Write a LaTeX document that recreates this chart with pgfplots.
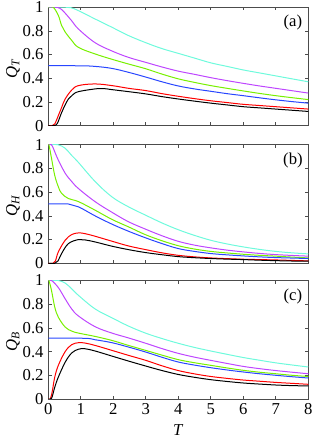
\documentclass[border=0pt]{standalone}
\usepackage{pgfplots}
\pgfplotsset{compat=1.18}
\usepackage{fontspec}
\setmainfont{Liberation Serif}
\definecolor{cc}{RGB}{110,250,220}
\definecolor{mm}{RGB}{190,70,255}
\definecolor{gg}{RGB}{120,240,0}
\definecolor{bb}{RGB}{40,70,255}
\definecolor{rr}{RGB}{255,0,0}
\pgfplotsset{panel/.style={
  scale only axis, width=195pt, height=88.9pt,
  anchor=south west,
  xmin=0,xmax=8,ymin=0,ymax=1,
  xtick={0,1,2,3,4,5,6,7,8}, ytick={0,0.2,0.4,0.6,0.8,1},
  tick align=inside, xtick pos=both, ytick pos=both,
  major tick length=2.5pt,
  tick label style={font=\fontsize{12.5}{14}\selectfont},
  /pgf/number format/assume math mode=true,
  axis line style={line width=0.6pt, black!70},
  every tick/.style={black!70, line width=0.5pt},
  label style={font=\fontsize{12.5}{14}\selectfont},
  ylabel style={at={(axis description cs:-0.136,0.483)}, anchor=center},
  xlabel style={at={(axis description cs:0.5,0)}, anchor=center, yshift=-23.3pt},
  every axis plot/.append style={line width=0.75pt, smooth, tension=0.6},
}}
\begin{document}
\begin{tikzpicture}
% ---------------- panel (a)
\begin{axis}[panel, at={(36.2pt,235pt)}, xticklabels={}, ylabel={\textit{Q}\textsubscript{\textit{T}}}]
\addplot[cc] coordinates {(0,1)(0.5,1)(0.7,0.995)(0.93,0.97)(1.44,0.90)(1.96,0.83)(2.47,0.76)(3,0.70)(3.5,0.65)(4,0.61)(4.5,0.57)(5,0.53)(5.5,0.50)(6,0.47)(6.5,0.445)(7,0.42)(7.5,0.395)(8,0.37)};
\addplot[mm] coordinates {(0,1)(0.2,1)(0.36,0.99)(0.5,0.955)(0.72,0.885)(0.93,0.815)(1.44,0.70)(1.96,0.63)(2.47,0.576)(3,0.534)(3.5,0.495)(4,0.46)(4.5,0.433)(5,0.405)(5.5,0.38)(6,0.357)(6.5,0.335)(7,0.315)(7.5,0.295)(8,0.275)};
\addplot[gg] coordinates {(0,1)(0.15,1)(0.31,0.93)(0.41,0.845)(0.52,0.79)(0.72,0.72)(0.93,0.66)(1.44,0.605)(1.96,0.56)(2.47,0.52)(3,0.48)(3.5,0.435)(4,0.395)(4.5,0.365)(5,0.338)(5.5,0.315)(6,0.293)(6.5,0.272)(7,0.253)(7.5,0.236)(8,0.22)};
\addplot[bb] coordinates {(0,0.506)(1,0.505)(1.44,0.50)(1.96,0.483)(2.47,0.45)(3,0.41)(3.5,0.37)(4,0.335)(4.5,0.31)(5,0.29)(5.5,0.27)(6,0.253)(6.5,0.235)(7,0.218)(7.5,0.203)(8,0.19)};
\addplot[rr] coordinates {(0,0)(0.12,0)(0.2,0.015)(0.31,0.085)(0.42,0.16)(0.52,0.225)(0.72,0.30)(0.93,0.338)(1.44,0.352)(1.96,0.338)(2.47,0.315)(3,0.296)(3.5,0.27)(4,0.248)(4.5,0.228)(5,0.21)(5.5,0.195)(6,0.18)(6.5,0.17)(7,0.16)(7.5,0.15)(8,0.14)};
\addplot[black] coordinates {(0,0)(0.18,0)(0.28,0.02)(0.41,0.11)(0.52,0.175)(0.62,0.225)(0.75,0.26)(0.93,0.287)(1.44,0.31)(1.7,0.313)(1.96,0.304)(2.47,0.287)(3,0.268)(3.5,0.245)(4,0.225)(4.5,0.207)(5,0.19)(5.5,0.175)(6,0.16)(6.5,0.15)(7,0.14)(7.5,0.13)(8,0.12)};
\node[font=\fontsize{12.5}{14}\selectfont] at (rel axis cs:0.941,0.867) {(a)};
\end{axis}
% ---------------- panel (b)
\begin{axis}[panel, at={(36.2pt,131.8pt)}, xticklabels={}, ylabel={\textit{Q}\textsubscript{\textit{H}}}]
\addplot[cc] coordinates {(0,1)(0.3,1)(0.52,0.97)(0.72,0.91)(0.93,0.85)(1.44,0.69)(1.96,0.56)(2.47,0.476)(3,0.405)(3.5,0.34)(4,0.283)(4.5,0.235)(5,0.194)(5.5,0.163)(6,0.138)(6.5,0.117)(7,0.10)(7.5,0.088)(8,0.079)};
\addplot[mm] coordinates {(0,1)(0.1,1)(0.2,0.94)(0.31,0.87)(0.52,0.76)(0.72,0.69)(0.93,0.63)(1.44,0.52)(1.96,0.43)(2.47,0.35)(3,0.287)(3.5,0.232)(4,0.185)(4.5,0.153)(5,0.13)(5.5,0.111)(6,0.096)(6.5,0.083)(7,0.073)(7.5,0.066)(8,0.06)};
\addplot[gg] coordinates {(0,1)(0.02,1)(0.1,0.885)(0.2,0.74)(0.31,0.645)(0.41,0.59)(0.62,0.546)(0.93,0.52)(1.44,0.448)(1.96,0.37)(2.47,0.307)(3,0.24)(3.5,0.19)(4,0.148)(4.5,0.12)(5,0.10)(5.5,0.087)(6,0.076)(6.5,0.067)(7,0.06)(7.5,0.052)(8,0.045)};
\addplot[bb] coordinates {(0,0.5)(0.62,0.5)(0.93,0.476)(1.44,0.40)(1.96,0.33)(2.47,0.27)(3,0.214)(3.5,0.166)(4,0.124)(4.5,0.1)(5,0.082)(5.5,0.071)(6,0.062)(6.5,0.054)(7,0.048)(7.5,0.044)(8,0.04)};
\addplot[rr] coordinates {(0,0)(0.15,0)(0.22,0.02)(0.31,0.096)(0.52,0.194)(0.72,0.242)(0.93,0.256)(1.13,0.25)(1.44,0.228)(1.96,0.186)(2.47,0.146)(3,0.115)(3.5,0.088)(4,0.067)(4.5,0.054)(5,0.045)(5.5,0.039)(6,0.034)(6.5,0.031)(7,0.028)(7.5,0.024)(8,0.02)};
\addplot[black] coordinates {(0,0)(0.2,0)(0.3,0.02)(0.41,0.082)(0.62,0.166)(0.93,0.2)(1.13,0.197)(1.44,0.18)(1.96,0.144)(2.47,0.115)(3,0.09)(3.5,0.072)(4,0.056)(4.5,0.047)(5,0.04)(5.5,0.035)(6,0.031)(6.5,0.026)(7,0.022)(7.5,0.019)(8,0.017)};
\node[font=\fontsize{12.5}{14}\selectfont] at (rel axis cs:0.941,0.867) {(b)};
\end{axis}
% ---------------- panel (c)
\begin{axis}[panel, at={(36.2pt,30pt)}, xlabel={\textit{T}}, ylabel={\textit{Q}\textsubscript{\textit{B}}}]
\addplot[cc] coordinates {(0,1)(0.3,1)(0.52,0.978)(0.72,0.93)(0.93,0.874)(1.44,0.76)(1.96,0.685)(2.47,0.615)(3,0.555)(3.5,0.51)(4,0.47)(4.5,0.435)(5,0.405)(5.5,0.377)(6,0.35)(6.5,0.327)(7,0.305)(7.5,0.287)(8,0.27)};
\addplot[mm] coordinates {(0,1)(0.1,1)(0.31,0.94)(0.52,0.845)(0.72,0.76)(0.93,0.70)(1.44,0.61)(1.96,0.556)(2.47,0.515)(3,0.47)(3.5,0.425)(4,0.385)(4.5,0.353)(5,0.326)(5.5,0.3)(6,0.275)(6.5,0.256)(7,0.24)(7.5,0.226)(8,0.213)};
\addplot[gg] coordinates {(0,1)(0.02,1)(0.1,0.915)(0.2,0.775)(0.31,0.69)(0.52,0.607)(0.72,0.573)(0.93,0.556)(1.44,0.528)(1.96,0.494)(2.47,0.452)(3,0.41)(3.5,0.37)(4,0.332)(4.5,0.306)(5,0.284)(5.5,0.262)(6,0.242)(6.5,0.226)(7,0.213)(7.5,0.2)(8,0.19)};
\addplot[bb] coordinates {(0,0.514)(1.13,0.512)(1.44,0.5)(1.96,0.475)(2.47,0.438)(3,0.396)(3.5,0.352)(4,0.312)(4.5,0.286)(5,0.264)(5.5,0.245)(6,0.228)(6.5,0.213)(7,0.2)(7.5,0.188)(8,0.177)};
\addplot[rr] coordinates {(0,0)(0.06,0)(0.12,0.06)(0.2,0.185)(0.31,0.284)(0.52,0.40)(0.72,0.458)(0.93,0.475)(1.13,0.472)(1.44,0.452)(1.96,0.41)(2.47,0.368)(3,0.326)(3.5,0.28)(4,0.24)(4.5,0.212)(5,0.19)(5.5,0.174)(6,0.16)(6.5,0.15)(7,0.14)(7.5,0.132)(8,0.124)};
\addplot[black] coordinates {(0,0)(0.1,0.005)(0.2,0.10)(0.31,0.185)(0.52,0.31)(0.72,0.388)(0.93,0.42)(1.13,0.424)(1.44,0.405)(1.96,0.362)(2.47,0.32)(3,0.278)(3.5,0.24)(4,0.207)(4.5,0.183)(5,0.163)(5.5,0.148)(6,0.135)(6.5,0.126)(7,0.118)(7.5,0.113)(8,0.11)};
\node[font=\fontsize{12.5}{14}\selectfont] at (rel axis cs:0.941,0.867) {(c)};
\end{axis}
\pgfresetboundingbox
\useasboundingbox (0,0) rectangle (235.5pt,329.25pt);
\end{tikzpicture}
\end{document}
